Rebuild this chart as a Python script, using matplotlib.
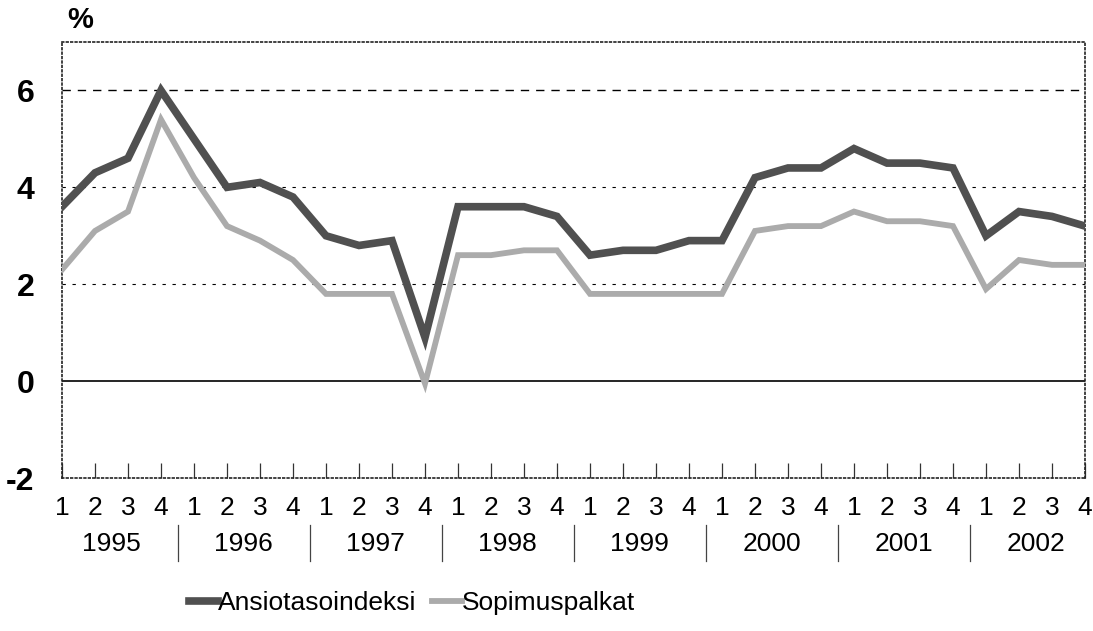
import numpy as np
import matplotlib.pyplot as plt
from matplotlib.lines import Line2D

years = ['1995', '1996', '1997', '1998', '1999', '2000', '2001', '2002']
quarters = ['1', '2', '3', '4']

ansiotaso = [3.6, 4.3, 4.6, 6.0,
             5.0, 4.0, 4.1, 3.8,
             3.0, 2.8, 2.9, 0.9,
             3.6, 3.6, 3.6, 3.4,
             2.6, 2.7, 2.7, 2.9,
             2.9, 4.2, 4.4, 4.4,
             4.8, 4.5, 4.5, 4.4,
             3.0, 3.5, 3.4, 3.2]
sopimus = [2.3, 3.1, 3.5, 5.4,
           4.2, 3.2, 2.9, 2.5,
           1.8, 1.8, 1.8, -0.05,
           2.6, 2.6, 2.7, 2.7,
           1.8, 1.8, 1.8, 1.8,
           1.8, 3.1, 3.2, 3.2,
           3.5, 3.3, 3.3, 3.2,
           1.9, 2.5, 2.4, 2.4]

plt.rcParams['font.family'] = ['Liberation Sans', 'DejaVu Sans']

fig = plt.figure(figsize=(10.93, 6.31), dpi=100)
ax = fig.add_axes([62 / 1093, 1 - 478 / 631, (1085 - 62) / 1093, (478 - 42) / 631])

x = np.arange(len(ansiotaso))
ax.plot(x, ansiotaso, color='#505050', linewidth=5.5, solid_joinstyle='miter',
        label='Ansiotasoindeksi', zorder=4)
ax.plot(x, sopimus, color='#ababab', linewidth=4.2, solid_joinstyle='miter',
        label='Sopimuspalkat', zorder=3)

ax.set_xlim(0, len(x) - 1)
ax.set_ylim(-2, 7)

# gridlines
ax.axhline(6, color='black', linewidth=1, linestyle=(0, (6, 5)), zorder=1)
for yv in [4, 2]:
    ax.axhline(yv, color='black', linewidth=0.8, linestyle=(0, (3, 6)), zorder=1)
ax.axhline(0, color='black', linewidth=1.2, zorder=2)

for s in ax.spines.values():
    s.set_linestyle(':')
    s.set_linewidth(1.2)
    s.set_color('#222222')

ax.set_yticks([-2, 0, 2, 4, 6])
ax.set_yticklabels(['-2', '0', '2', '4', '6'], fontsize=23, fontweight='heavy')
ax.tick_params(axis='y', length=0, pad=20)

ax.set_xticks(x)
ax.set_xticklabels(quarters * len(years), fontsize=19)
ax.tick_params(axis='x', direction='in', length=11, width=0.9, color='#333333', pad=13)

# year labels and separators
for i, yr in enumerate(years):
    ax.text(i * 4 + 1.5, -0.152, yr, transform=ax.get_xaxis_transform(),
            ha='center', va='center', fontsize=19)
    if i > 0:
        xs = i * 4 - 0.5
        ax.add_line(Line2D([xs, xs], [-0.108, -0.19], transform=ax.get_xaxis_transform(),
                           color='#444444', linewidth=0.9, clip_on=False))

fig.text(67 / 1093, 1 - 20 / 631, '%', fontsize=21, fontweight='heavy', ha='left', va='center')

leg = fig.legend(loc='center', bbox_to_anchor=(412 / 1093, 1 - 603 / 631), ncol=2,
                 frameon=False, fontsize=19, handlelength=1.1, handletextpad=0.0,
                 columnspacing=0.6)

fig.savefig('out.png', dpi=100)
